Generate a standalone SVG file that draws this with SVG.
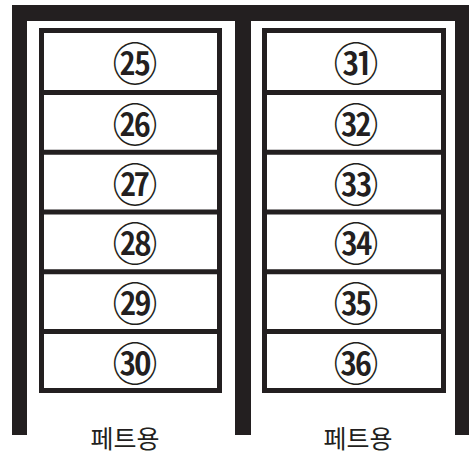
<svg xmlns="http://www.w3.org/2000/svg" width="469" height="455" viewBox="0 0 469 455">
<style>
.frame{fill:#231f20}
.box{fill:#fff;stroke:#231f20;stroke-width:5}
.div{stroke:#231f20;stroke-width:5}
.num{font-family:"Noto Sans CJK KR","Noto Sans CJK JP",sans-serif;font-size:45px;font-weight:500;fill:#231f20;text-anchor:middle;dominant-baseline:central}
.lbl{font-family:"Noto Sans CJK KR",sans-serif;font-size:25px;fill:#231f20;text-anchor:middle}
</style>
<rect width="469" height="455" fill="#fff"/>
<g id="frame">
<rect class="frame" x="12" y="5" width="457" height="16"/>
<rect class="frame" x="12" y="5" width="15" height="430"/>
<rect class="frame" x="235" y="5" width="16" height="430"/>
<rect class="frame" x="455" y="5" width="14" height="430"/>
</g>
<g id="left-box">
<rect class="box" x="41.5" y="30.5" width="178" height="360"/>
<line class="div" x1="41.5" y1="92.5" x2="219.5" y2="92.5"/>
<line class="div" x1="41.5" y1="152.3" x2="219.5" y2="152.3"/>
<line class="div" x1="41.5" y1="212" x2="219.5" y2="212"/>
<line class="div" x1="41.5" y1="271.8" x2="219.5" y2="271.8"/>
<line class="div" x1="41.5" y1="331.5" x2="219.5" y2="331.5"/>
<text class="num" x="135" y="61.7">㉕</text>
<text class="num" x="135" y="122.4">㉖</text>
<text class="num" x="135" y="182.1">㉗</text>
<text class="num" x="135" y="241.9">㉘</text>
<text class="num" x="135" y="301.6">㉙</text>
<text class="num" x="135" y="361">㉚</text>
</g>
<g id="right-box">
<rect class="box" x="264.5" y="30.5" width="179" height="360"/>
<line class="div" x1="264.5" y1="92.5" x2="443.5" y2="92.5"/>
<line class="div" x1="264.5" y1="152.3" x2="443.5" y2="152.3"/>
<line class="div" x1="264.5" y1="212" x2="443.5" y2="212"/>
<line class="div" x1="264.5" y1="271.8" x2="443.5" y2="271.8"/>
<line class="div" x1="264.5" y1="331.5" x2="443.5" y2="331.5"/>
<text class="num" x="356" y="61.7">㉛</text>
<text class="num" x="356" y="122.4">㉜</text>
<text class="num" x="356" y="182.1">㉝</text>
<text class="num" x="356" y="241.9">㉞</text>
<text class="num" x="356" y="301.6">㉟</text>
<text class="num" x="356" y="361">㊱</text>
</g>
<g id="labels">
<text class="lbl" x="125" y="448">페트용</text>
<text class="lbl" x="358" y="448">페트용</text>
</g>
</svg>
